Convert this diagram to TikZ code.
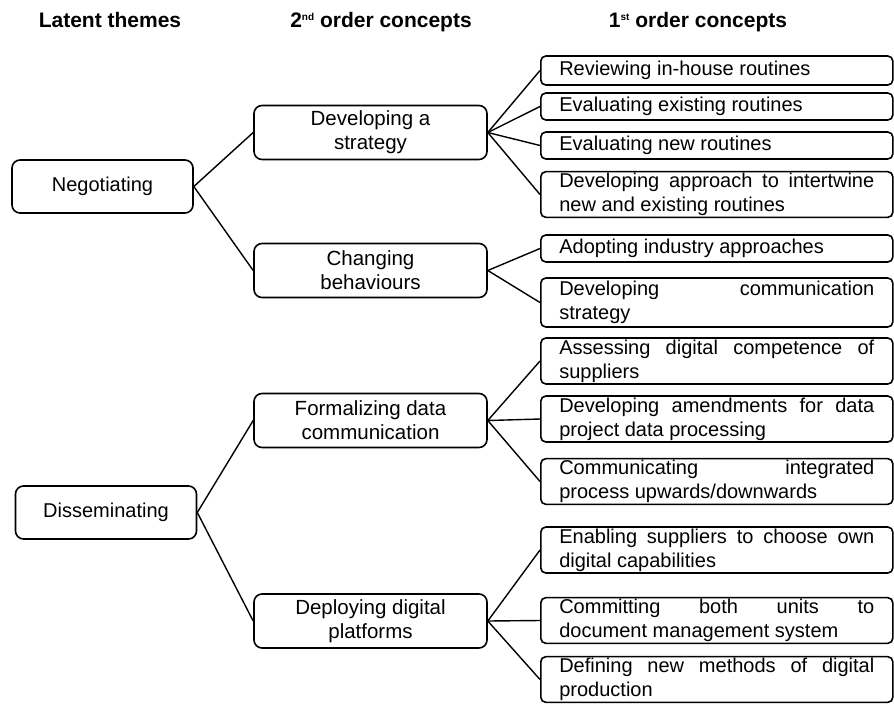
\documentclass[tikz,border=0pt]{standalone}
\usepackage{fontspec}
\setmainfont{Liberation Sans}
\usepackage{tikz}
\tolerance=10000
\hbadness=10000
\hyphenpenalty=10000
\exhyphenpenalty=10000

\tikzset{
  hdr/.style={font=\bfseries\fontsize{21}{24}\selectfont, anchor=base},
  themebox/.style={draw, line width=1.6pt, rounded corners=8pt, minimum width=181pt, minimum height=53pt, font=\fontsize{20}{24}\selectfont},
  secondbox/.style={draw, line width=1.6pt, rounded corners=8pt, minimum width=233pt, minimum height=54pt, inner ysep=2pt, align=center, font=\fontsize{20.5}{24}\selectfont},
  firstbox/.style={draw, line width=1.6pt, rounded corners=5pt, anchor=west, text width=315pt, inner xsep=18.5pt, inner ysep=1.5pt, align=justify, font=\fontsize{20}{24}\selectfont},
  link/.style={line width=1.4pt}
}
\newcommand{\supx}[1]{\raisebox{7pt}{\fontsize{10}{10}\selectfont #1}}

\begin{document}
\begin{tikzpicture}[x=1pt,y=-1pt]
		\useasboundingbox (0,0) rectangle (894,705);
		% column heads
		\node[hdr] (h1) at (110,27) {Latent themes};
		\node[hdr] (h2) at (381,27) {2\supx{nd} order concepts};
		\node[hdr] (h3) at (698,27) {1\supx{st} order concepts};
		% latent themes
		\node[themebox] (neg) at (102.5,186.5) {Negotiating};
		\node[themebox] (dis) at (106,512.5) {Disseminating};
		% 2nd order
		\node[secondbox] (strat) at (370.5,132.5) {Developing a\\strategy};
		\node[secondbox] (behav) at (370.5,270.5) {Changing\\behaviours};
		\node[secondbox] (formal) at (370.5,420.5) {Formalizing data\\communication};
		\node[secondbox] (deploy) at (370.5,621) {Deploying digital\\platforms};
		% 1st order
		\node[firstbox, minimum height=29pt] (review) at (540,70.5) {Reviewing in-house routines};
		\node[firstbox, minimum height=27pt] (evalold) at (540,106.5) {Evaluating existing routines};
		\node[firstbox, minimum height=27pt] (evalnew) at (540,145.5) {Evaluating new routines};
		\node[firstbox, minimum height=45pt] (intertwine) at (540,194.5) {Developing approach to intertwine\linebreak new and existing routines};
		\node[firstbox, minimum height=27pt] (adopt) at (540,248.5) {Adopting industry approaches};
		\node[firstbox, minimum height=49pt] (comm) at (540,302.5) {Developing communication\linebreak strategy};
		\node[firstbox, minimum height=46pt] (assess) at (540,361) {Assessing digital competence of\linebreak suppliers};
		\node[firstbox, minimum height=46pt] (amend) at (540,419) {Developing amendments for data\linebreak project data processing};
		\node[firstbox, minimum height=45pt] (updown) at (540,481.5) {Communicating integrated\linebreak process upwards/downwards};
		\node[firstbox, minimum height=46pt] (enable) at (540,550) {Enabling suppliers to choose own\linebreak digital capabilities};
		\node[firstbox, minimum height=45pt] (dms) at (540,620.5) {Committing both units to\linebreak document management system};
		\node[firstbox, minimum height=45pt] (define) at (540,679.5) {Defining new methods of digital\linebreak production};
		% connectors
		\foreach \a/\b in {neg/strat,neg/behav,dis/formal,dis/deploy,strat/review,strat/evalold,strat/evalnew,strat/intertwine,behav/adopt,behav/comm,formal/assess,formal/amend,formal/updown,deploy/enable,deploy/dms,deploy/define} \draw[link] (\a.east) -- (\b.west);
	\end{tikzpicture}
\end{document}
